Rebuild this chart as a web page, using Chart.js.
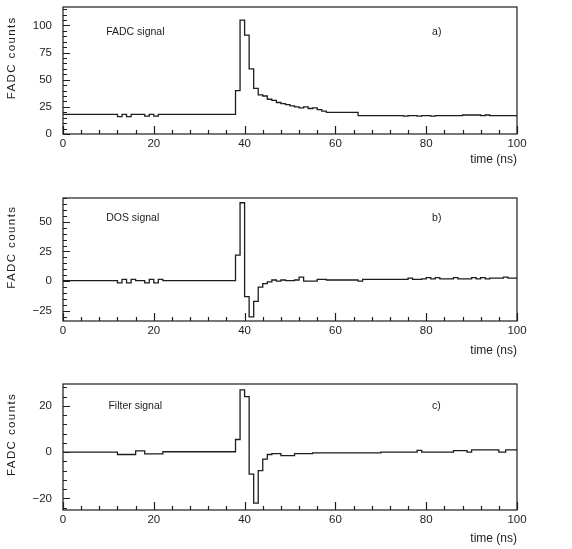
<!DOCTYPE html>
<html>
<head>
<meta charset="utf-8">
<script src="https://cdn.jsdelivr.net/npm/chart.js@4.4.1/dist/chart.umd.min.js"></script>
<style>
    html, body { margin: 0; padding: 0; background: #fff; }
    #wrap { position: relative; width: 572px; height: 549px; overflow: hidden; }
    canvas { position: absolute; left: 0; }
</style>
</head>
<body>
<div id="wrap">
    <canvas id="fadcChart" width="572" height="170" style="top:0px"></canvas>
    <canvas id="dosChart" width="572" height="171" style="top:190px"></canvas>
    <canvas id="filterChart" width="572" height="173" style="top:376px"></canvas>
</div>
<script>
// Histogrammen met bins van 1 ns: starttijd van een bin + waarde (alleen waar de waarde verandert)
const fadcTimes  = [0, 12, 13, 14, 15, 18, 19, 20, 21, 38, 39, 40, 41, 42, 43, 44, 45, 46, 47, 48, 49, 50, 51, 52, 53, 54, 55, 56, 57, 58, 65, 75, 76, 78, 79, 81, 82, 88, 92, 93, 94];
const fadcCounts = [18, 16, 18, 16, 18, 16.5, 18, 16.5, 18, 40, 105, 91, 60, 42, 36, 35, 32, 31, 29, 28, 27, 26, 25, 24, 25, 23.5, 24, 22.5, 21, 20, 17, 16.5, 17, 16.5, 17, 16.5, 17, 17.5, 17, 17.5, 17];

const dosTimes  = [0, 12, 13, 14, 15, 16, 18, 19, 20, 21, 22, 38, 39, 40, 41, 42, 43, 44, 45, 46, 47, 48, 49, 51, 52, 53, 56, 58, 65, 66, 76, 77, 79, 80, 81, 82, 83, 86, 87, 90, 91, 92, 93, 94, 97, 98];
const dosCounts = [0.5, -1.5, 1.5, -1.5, 1.5, 0.5, -1.5, 1.5, -1.5, 1.5, 0.5, 22, 66, -13, -30, -17, -5, -2, -0.5, 1, 0, 1, 0.5, 1, 3.5, 0, 1.5, 1, 0, 1.5, 2.5, 1.5, 2, 3, 2, 3, 2, 3, 2, 3, 2, 3, 2, 2.5, 3.5, 2.5];

const filterTimes  = [0, 12, 16, 18, 22, 38, 39, 40, 41, 42, 43, 44, 45, 46, 48, 51, 55, 70, 78, 79, 86, 89, 90, 96, 97.5];
const filterCounts = [0, -1, 0.6, -0.7, 0.2, 5.5, 27, 24, -9.5, -22, -8, -3, -1, -0.6, -1.5, -0.6, -0.3, 0, 0.8, 0, 0.7, 0, 1, 0, 1];

const timeEnd = 100;
const timeTicks = [0, 20, 40, 60, 80, 100];
const fadcTicks = [0, 25, 50, 75, 100];
const dosTicks = [-25, 0, 25, 50];
const filterTicks = [-20, 0, 20];

const INK = '#1d1d1d';
const SANS = "'Liberation Sans', Arial, sans-serif";
const TICK_FONT = { family: SANS, size: 11.5 };

// Frame om het plotgebied, tick-streepjes naar binnen, paneltekst en y-titel
const frameTicks = {
    id: 'frameTicks',
    afterDatasetsDraw(chart, args, o) {
        const { ctx, chartArea: a, scales: { x, y } } = chart;
        ctx.save();
        ctx.strokeStyle = INK;
        ctx.lineWidth = 1.2;
        ctx.strokeRect(a.left, a.top, a.right - a.left, a.bottom - a.top);

        ctx.beginPath();
        for (let k = Math.ceil(x.min / o.xMinor); k * o.xMinor <= x.max; k++) {
            const v = k * o.xMinor;
            const px = Math.round(x.getPixelForValue(v)) + 0.5;
            const len = Math.abs(v % o.xMajor) < 1e-9 ? 8 : 4;
            ctx.moveTo(px, a.bottom); ctx.lineTo(px, a.bottom - len);
        }
        for (let k = Math.ceil(y.min / o.yMinor); k * o.yMinor <= y.max; k++) {
            const v = k * o.yMinor;
            const py = Math.round(y.getPixelForValue(v)) + 0.5;
            const len = Math.abs(v % o.yMajor) < 1e-9 ? 7 : 4;
            ctx.moveTo(a.left, py); ctx.lineTo(a.left + len, py);
        }
        ctx.stroke();

        ctx.fillStyle = INK;
        ctx.font = `10.5px ${SANS}`;
        ctx.textBaseline = 'middle';
        ctx.textAlign = 'left';
        ctx.fillText(o.note, x.getPixelForValue(o.noteX), y.getPixelForValue(o.noteY));
        ctx.fillText(o.tag, x.getPixelForValue(o.tagX), y.getPixelForValue(o.noteY));

        ctx.translate(12, a.top + 0.4 * (a.bottom - a.top));
        ctx.rotate(-Math.PI / 2);
        ctx.textAlign = 'center';
        ctx.font = `11.5px ${SANS}`;
        ctx.letterSpacing = '1.4px';
        ctx.fillText(o.yTitle, 0, 0);
        ctx.restore();
    }
};

function toSteps(times, values) {
    const pts = times.map((t, i) => ({ x: t, y: values[i] }));
    pts.push({ x: timeEnd, y: values[values.length - 1] });
    return pts;
}

function createPanel(id, times, values, yMin, yMax, yTickValues, axisHeight, padTop, marks) {
    new Chart(document.getElementById(id), {
        type: 'line',
        data: {
            datasets: [{
                data: toSteps(times, values), stepped: 'before',
                borderColor: INK, borderWidth: 1.3, pointRadius: 0, fill: false
            }]
        },
        options: {
            responsive: false, animation: false,
            layout: { padding: { top: padTop, right: 55, left: 0, bottom: 0 } },
            plugins: { legend: { display: false }, tooltip: { enabled: false }, frameTicks: marks },
            scales: {
                x: {
                    type: 'linear', min: 0, max: timeEnd,
                    afterBuildTicks: s => { s.ticks = timeTicks.map(v => ({ value: v })); },
                    afterFit: s => { s.height = axisHeight; },
                    grid: { display: false, drawTicks: false }, border: { display: false },
                    ticks: { font: TICK_FONT, color: INK, padding: 3, maxRotation: 0 },
                    title: { display: true, text: 'time (ns)', align: 'end', color: INK,
                             font: { family: SANS, size: 12 }, padding: { top: 0, bottom: 3 } }
                },
                y: {
                    min: yMin, max: yMax,
                    afterBuildTicks: s => { s.ticks = yTickValues.map(v => ({ value: v })); },
                    afterFit: s => { s.width = 63; },
                    // de tickLength houdt de labels van de as af zonder extra bovenmarge
                    grid: { display: false, tickLength: 11 }, border: { display: false },
                    ticks: { font: TICK_FONT, color: INK, padding: 0,
                             callback: v => String(v).replace('-', '\u2212') }
                }
            }
        },
        plugins: [frameTicks]
    });
}

createPanel('fadcChart', fadcTimes, fadcCounts, 0, 117, fadcTicks, 36, 7,
    { xMajor: 20, xMinor: 4, yMajor: 25, yMinor: 5, note: 'FADC signal', noteX: 9.5, noteY: 94, tag: 'a)', tagX: 81.3, yTitle: 'FADC counts' });
createPanel('dosChart', dosTimes, dosCounts, -33.5, 70, dosTicks, 40, 8,
    { xMajor: 20, xMinor: 4, yMajor: 25, yMinor: 5, note: 'DOS signal', noteX: 9.5, noteY: 53, tag: 'b)', tagX: 81.3, yTitle: 'FADC counts' });
createPanel('filterChart', filterTimes, filterCounts, -25, 29.5, filterTicks, 39, 8,
    { xMajor: 20, xMinor: 4, yMajor: 20, yMinor: 4, note: 'Filter signal', noteX: 10, noteY: 19.8, tag: 'c)', tagX: 81.3, yTitle: 'FADC counts' });
</script>
</body>
</html>
